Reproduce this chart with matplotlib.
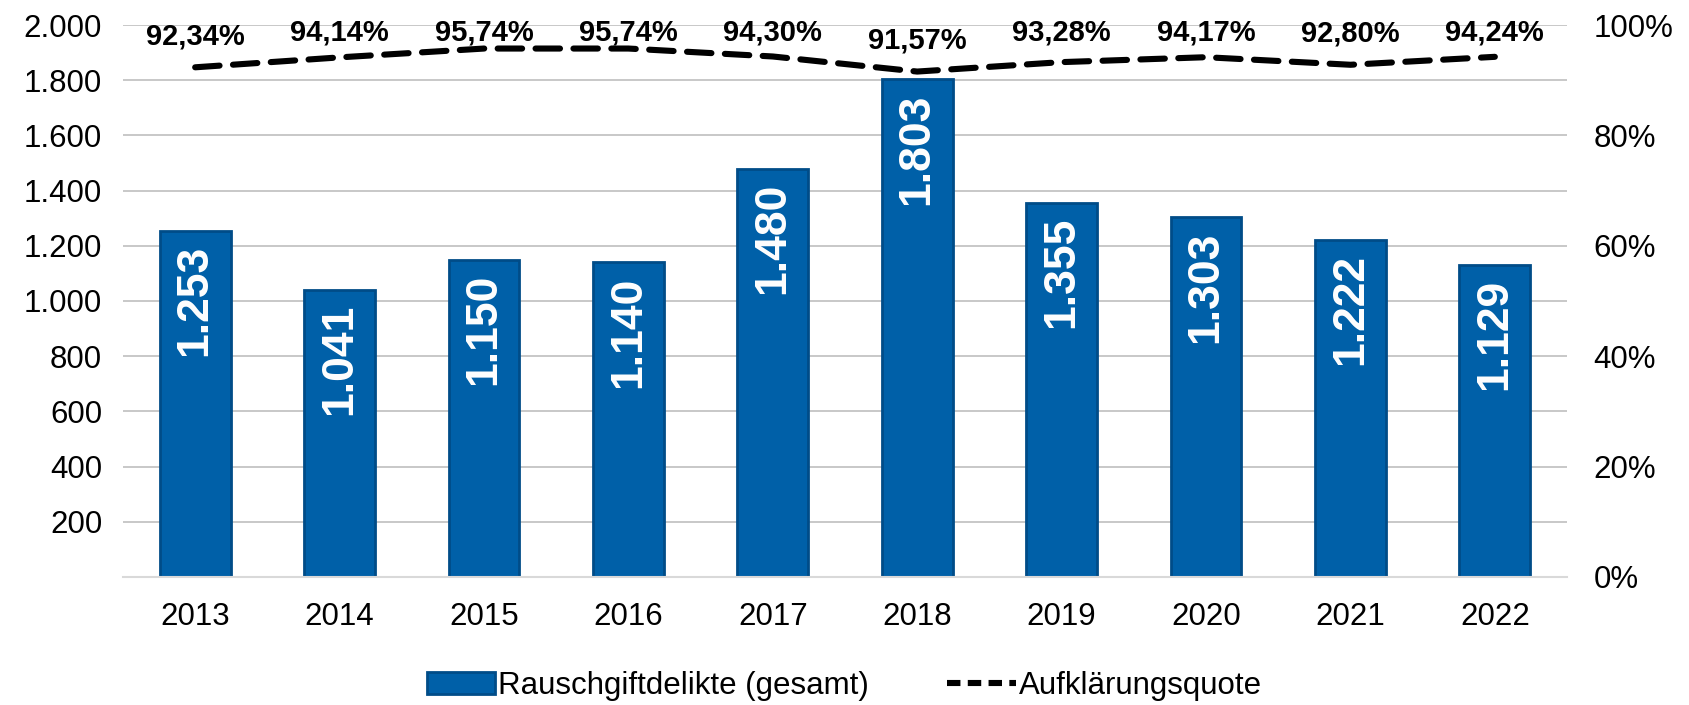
import matplotlib
matplotlib.use("Agg")
import matplotlib.pyplot as plt
from matplotlib.lines import Line2D
from matplotlib.patches import Patch

# Rauschgiftdelikte (gesamt) und Aufklaerungsquote, 2013-2022
years = ['2013', '2014', '2015', '2016', '2017', '2018', '2019', '2020', '2021', '2022']
cases = [1253, 1041, 1150, 1140, 1480, 1803, 1355, 1303, 1222, 1129]
clearanceRate = [92.34, 94.14, 95.74, 95.74, 94.30, 91.57, 93.28, 94.17, 92.80, 94.24]

barColor = '#0060A8'
edgeColor = '#004C88'
gridColor = '#BFBFBF'

plt.rcParams['font.family'] = ['Liberation Sans', 'DejaVu Sans']


def germanNumber(value):
    return '{:,}'.format(value).replace(',', '.')


def germanPercent(value):
    return '{:.2f}%'.format(value).replace('.', ',')


fig = plt.figure(figsize=(16.89, 7.05), dpi=100)
ax = fig.add_axes([0.0728, 0.1816, 0.8550, 0.7829])
ax2 = ax.twinx()

# Bars
x = list(range(len(years)))
bars = ax.bar(x, cases, width=0.49, color=barColor, edgecolor=edgeColor, linewidth=2, zorder=2)
for xi, value in zip(x, cases):
    ax.annotate(germanNumber(value), (xi, value), xytext=(0, -10), textcoords='offset points',
                rotation=90, ha='center', va='top', color='white', fontsize=32,
                fontweight='bold', zorder=3)

ax.set_xlim(-0.5, len(years) - 0.5)
ax.set_ylim(0, 2000)
ax.set_yticks(range(0, 2001, 200))
ax.set_yticklabels([''] + [germanNumber(v) for v in range(200, 2001, 200)])
ax.set_xticks(x)
ax.set_xticklabels(years)
ax.tick_params(axis='both', length=0, labelsize=22.5)
ax.tick_params(axis='x', pad=18)
ax.tick_params(axis='y', pad=15)
ax.grid(axis='y', color=gridColor, linewidth=1.2, zorder=0)
ax.set_axisbelow(True)
for side in ['top', 'right', 'left']:
    ax.spines[side].set_visible(False)
ax.spines['bottom'].set_color('#D9D9D9')
ax.spines['bottom'].set_linewidth(1.5)

# Clearance rate line
ax2.plot(x, clearanceRate, color='black', linewidth=4.4, dashes=(4, 2.2),
         dash_capstyle='round', zorder=4)
for xi, value in zip(x, clearanceRate):
    labelY = min(value + 3.1, 96.1)
    ax2.text(xi, labelY, germanPercent(value), ha='center', va='bottom',
             fontsize=21, fontweight='bold', color='black', zorder=5)
ax2.set_ylim(0, 100)
ax2.set_yticks(range(0, 101, 20))
ax2.set_yticklabels(['{}%'.format(v) for v in range(0, 101, 20)])
ax2.tick_params(axis='y', length=0, labelsize=22.5, pad=19)
for side in ['top', 'right', 'left', 'bottom']:
    ax2.spines[side].set_visible(False)

# Legend
handles = [Patch(facecolor=barColor, edgecolor=edgeColor, linewidth=2),
           Line2D([0], [0], color='black', linewidth=4.4, dashes=(2.2, 1.2))]
fig.legend(handles, ['Rauschgiftdelikte (gesamt)', 'Aufklärungsquote'],
           loc='center', bbox_to_anchor=(0.5, 0.027), ncol=2, frameon=False,
           fontsize=22.5, handlelength=2.2, handletextpad=0.1, columnspacing=2.5)

plt.savefig('out.png', dpi=100)
plt.close()
